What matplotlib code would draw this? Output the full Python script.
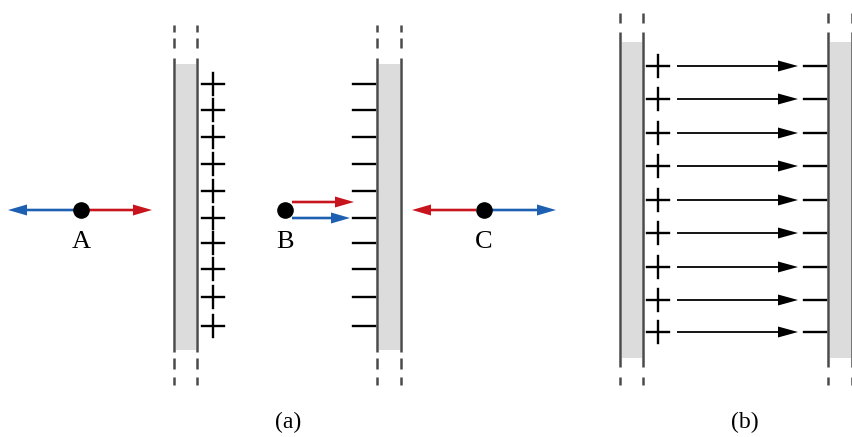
import matplotlib
matplotlib.use("Agg")
import matplotlib.pyplot as plt

# --- données du schéma (coordonnées en pixels) ---
charge_y_a = [84, 110, 137, 164, 191, 218, 243, 269, 297, 326]
charge_y_b = [66, 99, 133, 166, 200, 233, 267, 300, 332]
points = ["A", "B", "C"]
points_x = [81, 285, 484]
points_y = [210, 210, 210]
panel_labels = ["(a)", "(b)"]
panel_x = [288, 745]

LINE = "#4a4a4a"
GRAY = "#dcdcdc"
RED = "#c8141c"
BLUE = "#1d5fb0"

fig = plt.figure(figsize=(8.52, 4.37), dpi=100)
ax = fig.add_axes([0, 0, 1, 1])
ax.set_xlim(0, 852)
ax.set_ylim(437, 0)
ax.axis("off")


def plaque(ax, x0, x1, y_solid, y_gray, dashes):
    ax.fill_between([x0 + 1.5, x1 - 1.5], y_gray[0], y_gray[1], color=GRAY, lw=0)
    for x in (x0, x1):
        ax.vlines(x, y_solid[0], y_solid[1], color=LINE, lw=1.8)
        for d0, d1 in dashes:
            ax.vlines(x, d0, d1, color=LINE, lw=1.8)


def fleche(ax, x0, x1, y, color, hl=19, hw=11, w=2.6):
    ax.arrow(x0, y, x1 - x0, 0, width=w, head_width=hw, head_length=hl,
             length_includes_head=True, color=color, lw=0)


# (a) plaques chargées
dash_a = [(25, 32), (38, 48), (358, 369), (377, 385)]
plaque(ax, 174, 197, (58, 352), (64, 350), dash_a)
plaque(ax, 377, 401, (58, 352), (64, 350), dash_a)

for y in charge_y_a:
    ax.plot([202, 224], [y, y], color="black", lw=1.7)
    ax.plot([213, 213], [y - 11, y + 11], color="black", lw=1.7)
    ax.plot([353, 375], [y, y], color="black", lw=1.7)

# points A, B, C
ax.scatter(points_x, points_y, s=120, color="black", zorder=5)
for nom, x, y in zip(points, points_x, points_y):
    ax.text(x, y + 32, nom, ha="center", va="center", fontsize=19,
            family="Liberation Serif")

fleche(ax, 75, 8, 210, BLUE)
fleche(ax, 88, 152, 210, RED)
fleche(ax, 292, 354, 202, RED)
fleche(ax, 292, 350, 218, BLUE)
fleche(ax, 476, 412, 210, RED)
fleche(ax, 490, 556, 210, BLUE)

# (b) condensateur
dash_b = [(13, 23), (377, 385)]
plaque(ax, 620, 643, (32, 367), (42, 358), dash_b)
plaque(ax, 828, 852, (32, 367), (42, 358), dash_b)

for y in charge_y_b:
    ax.plot([647, 669], [y, y], color="black", lw=1.7)
    ax.plot([658, 658], [y - 11, y + 11], color="black", lw=1.7)
    fleche(ax, 677, 798, y, "black", hl=20, hw=11, w=1.8)
    ax.plot([804, 826], [y, y], color="black", lw=1.7)

for lab, x in zip(panel_labels, panel_x):
    ax.text(x, 422, lab, ha="center", va="center", fontsize=17,
            family="Liberation Serif")

fig.savefig("out.png", dpi=100)
